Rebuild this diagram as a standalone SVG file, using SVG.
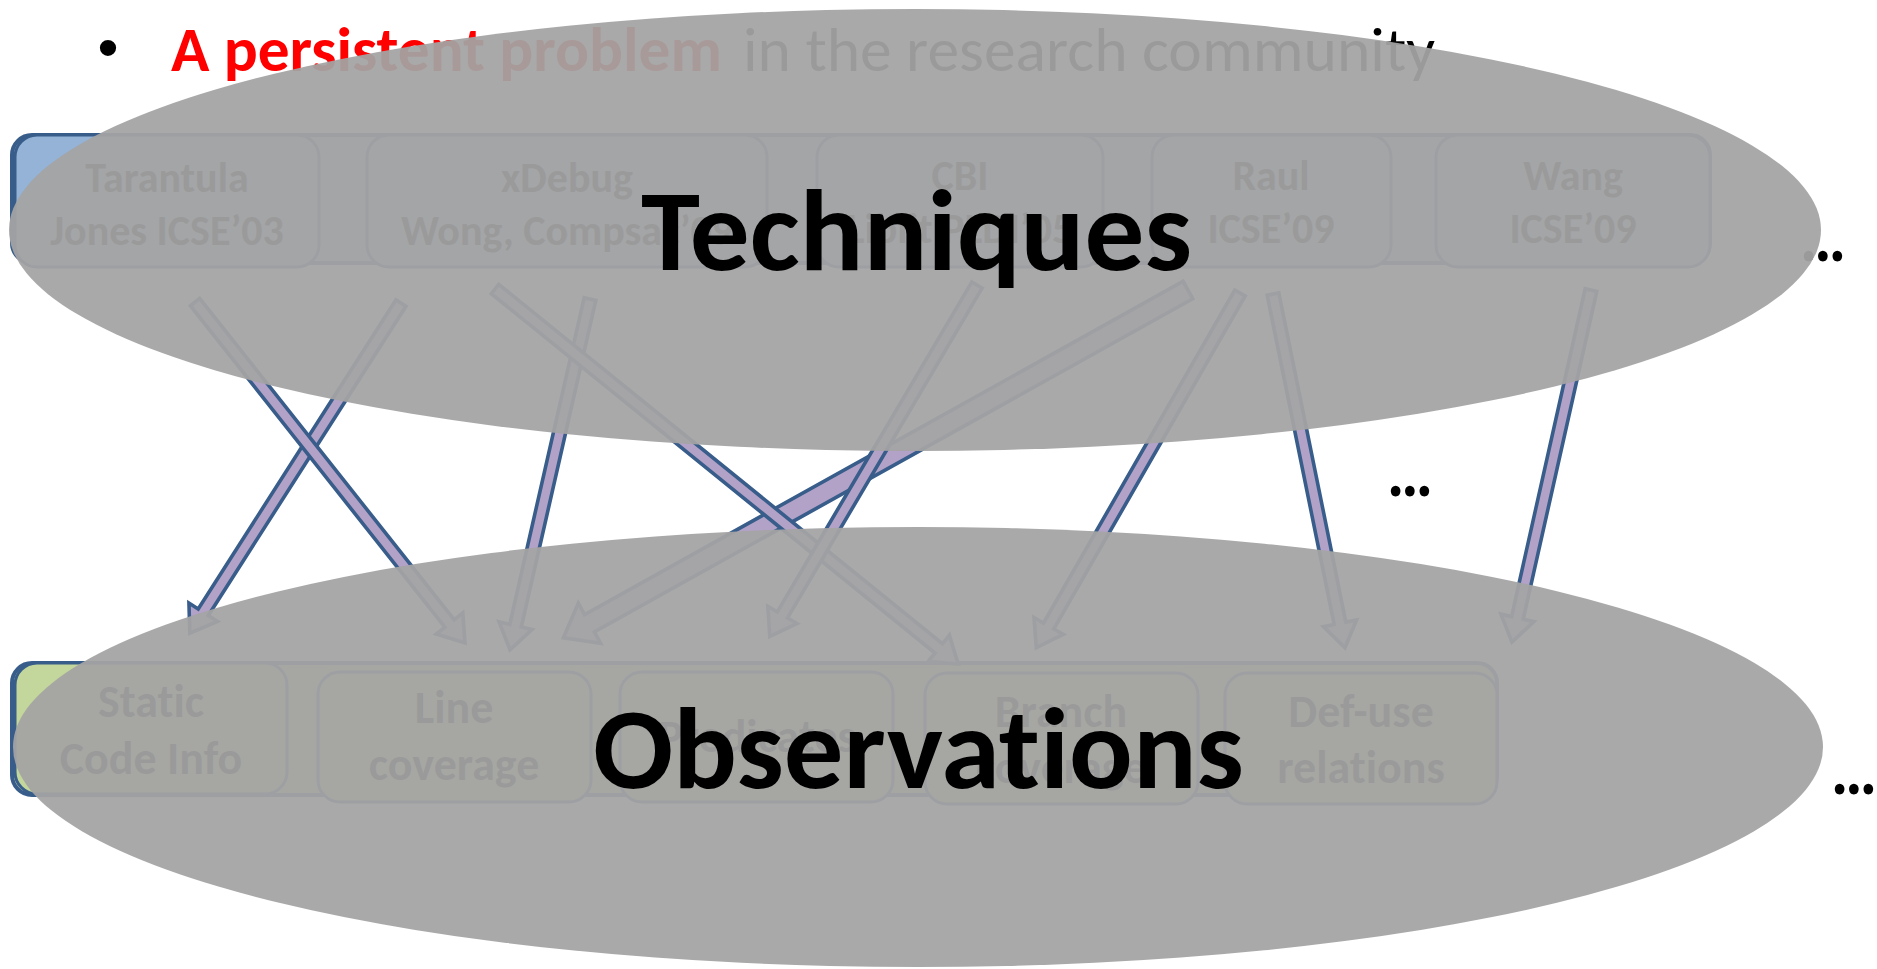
<svg xmlns="http://www.w3.org/2000/svg" width="1877" height="969" viewBox="0 0 1877 969">
<style>
text{font-variant-ligatures:none;font-feature-settings:"liga" 0,"clig" 0}
.title{font-family:Carlito,Calibri,Lato,"Open Sans",sans-serif;font-size:62px}
.box{fill:#95B3D7;stroke:#385D8A;stroke-width:3}
.obox{fill:#C3D69B;stroke:#385D8A;stroke-width:3}
.bt{font-family:Carlito,Calibri,Lato,"Open Sans",sans-serif;font-size:42px;font-weight:bold;fill:#000;text-anchor:middle}
.ot{font-family:Carlito,Calibri,Lato,"Open Sans",sans-serif;font-size:46px;font-weight:bold;fill:#000;text-anchor:middle}
.arr{fill:#B3A2C7;stroke:#385D8A;stroke-width:3.6;stroke-linejoin:miter}
.dots{font-family:Carlito,Calibri,Lato,"Open Sans",sans-serif;font-size:72px;font-weight:bold;fill:#000}
.ell{fill:#A4A4A4;fill-opacity:0.94}
.big{font-family:Carlito,Calibri,Lato,"Open Sans",sans-serif;font-size:116px;font-weight:bold;fill:#000}
</style>
<rect width="1877" height="969" fill="#fff"/>
<g id="title">
<text x="108" y="68" font-family="Liberation Sans,sans-serif" font-size="60" text-anchor="middle">•</text>
<text class="title" x="171" y="71" font-weight="bold" fill="#FF0000" textLength="551" lengthAdjust="spacingAndGlyphs">A persistent problem</text>
<text class="title" x="743" y="71" fill="#000" textLength="692" lengthAdjust="spacingAndGlyphs">in the research community</text>
</g>
<g id="techniques-row">
<rect x="12" y="135" width="1698" height="128" rx="20" fill="#95B3D7" stroke="#385D8A" stroke-width="4"/>
<g id="tarantula"><rect class="box" x="15" y="135" width="304" height="132" rx="22"/><text class="bt" x="167" y="192">Tarantula</text><text class="bt" x="167" y="245">Jones ICSE’03</text></g>
<g id="xdebug"><rect class="box" x="367" y="135" width="400" height="132" rx="22"/><text class="bt" x="567" y="192">xDebug</text><text class="bt" x="567" y="245">Wong, Compsac’09</text></g>
<g id="cbi"><rect class="box" x="817" y="135" width="286" height="132" rx="22"/><text class="bt" x="960" y="190">CBI</text><text class="bt" x="960" y="243">Liblit PLDI’05</text></g>
<g id="raul"><rect class="box" x="1152" y="135" width="239" height="132" rx="22"/><text class="bt" x="1271" y="190">Raul</text><text class="bt" x="1271" y="243">ICSE’09</text></g>
<g id="wang"><rect class="box" x="1436" y="135" width="274" height="132" rx="22"/><text class="bt" x="1573" y="190">Wang</text><text class="bt" x="1573" y="243">ICSE’09</text></g>
<text class="dots" x="1800" y="261" textLength="46" lengthAdjust="spacingAndGlyphs">…</text>
</g>
<g id="observations-row">
<rect x="12" y="663" width="1485" height="132" rx="20" fill="#C3D69B" stroke="#385D8A" stroke-width="4"/>
<g id="static"><rect class="obox" x="15" y="663" width="272" height="131" rx="22"/><text class="ot" x="151" y="717">Static</text><text class="ot" x="151" y="774">Code Info</text></g>
<g id="line"><rect class="obox" x="318" y="672" width="273" height="130" rx="22"/><text class="ot" x="454" y="723">Line</text><text class="ot" x="454" y="780">coverage</text></g>
<g id="predicates"><rect class="obox" x="620" y="672" width="273" height="130" rx="22"/><text class="ot" x="757" y="752">Predicates</text></g>
<g id="branch"><rect class="obox" x="925" y="673" width="273" height="131" rx="22"/><text class="ot" x="1061" y="727">Branch</text><text class="ot" x="1061" y="783">coverage</text></g>
<g id="defuse"><rect class="obox" x="1225" y="673" width="272" height="131" rx="22"/><text class="ot" x="1361" y="727">Def-use</text><text class="ot" x="1361" y="783">relations</text></g>
<text class="dots" x="1831" y="794" textLength="46" lengthAdjust="spacingAndGlyphs">…</text>
</g>
<g id="connectors">
<path class="arr" transform="translate(401,303) rotate(122.6)" d="M0,-6 H367 V-17 L392,0 L367,17 V6 H0 Z"/>
<path class="arr" transform="translate(195,302) rotate(51.63)" d="M0,-6 H410 V-17 L435,0 L410,17 V6 H0 Z"/>
<path class="arr" transform="translate(590,299) rotate(102.84)" d="M0,-6 H335 V-17 L360,0 L335,17 V6 H0 Z"/>
<path class="arr" transform="translate(1188,290) rotate(150.89)" d="M0,-10 H685 V-23 L715,0 L685,23 V10 H0 Z"/>
<path class="arr" transform="translate(495,289) rotate(39.0)" d="M0,-6 H571 V-17 L596,0 L571,17 V6 H0 Z"/>
<path class="arr" transform="translate(977,285) rotate(120.53)" d="M0,-6 H383 V-17 L408,0 L383,17 V6 H0 Z"/>
<path class="arr" transform="translate(1240,293) rotate(119.88)" d="M0,-6 H384 V-17 L409,0 L384,17 V6 H0 Z"/>
<path class="arr" transform="translate(1273,294) rotate(78.5)" d="M0,-6 H336 V-17 L361,0 L336,17 V6 H0 Z"/>
<path class="arr" transform="translate(1591,290) rotate(102.65)" d="M0,-6 H336 V-17 L361,0 L336,17 V6 H0 Z"/>
</g>
<text class="dots" x="1387" y="496" textLength="46" lengthAdjust="spacingAndGlyphs">…</text>
<g id="techniques-ellipse">
<ellipse class="ell" cx="915" cy="230" rx="906" ry="221"/>
<text class="big" x="641" y="270" textLength="551" lengthAdjust="spacingAndGlyphs">Techniques</text>
</g>
<g id="observations-ellipse">
<ellipse class="ell" cx="918" cy="747" rx="905" ry="220"/>
<text class="big" x="593" y="788" textLength="651" lengthAdjust="spacingAndGlyphs">Observations</text>
</g>
</svg>
